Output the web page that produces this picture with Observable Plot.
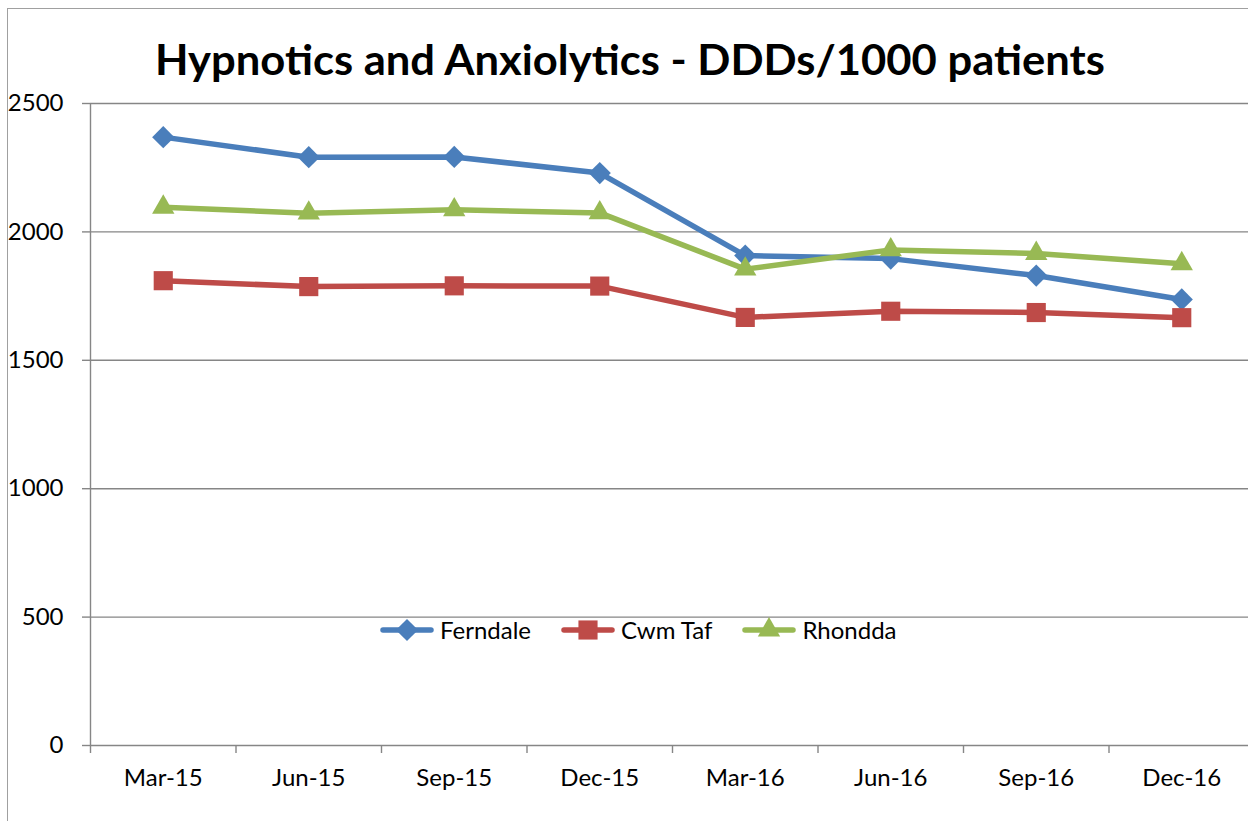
<!DOCTYPE html>
<html><head><meta charset="utf-8">
<script src="https://cdn.jsdelivr.net/npm/d3@7"></script>
<script src="https://cdn.jsdelivr.net/npm/@observablehq/plot@0.6"></script>
<style>
html,body{margin:0;padding:0;background:#fff;overflow:hidden;width:1248px;height:821px}
#wrap{position:relative;width:1248px;height:821px;overflow:hidden;background:#fff}
#frame{position:absolute;left:7px;top:8px;width:1400px;height:1000px;border:1px solid #a0a0a0;box-sizing:border-box}
#chart{position:absolute;left:0;top:0;width:1262px;height:821px}
#chart svg{max-width:none !important;width:1262px;height:821px}
#title{position:absolute;left:0;top:38px;width:1260px;text-align:center;font-family:Lato,"Open Sans",sans-serif;font-weight:700;font-size:42px;line-height:1;color:#000;white-space:nowrap}
#title span{display:inline-block;transform-origin:center}
#legend{position:absolute;left:380px;top:615px;display:flex;align-items:center;font-family:Lato,"Open Sans",sans-serif;font-size:24px;color:#000;line-height:30px}
#legend .item{display:flex;align-items:center;margin-right:30px}
#legend svg{display:block;margin-right:6px}
</style></head>
<body><div id="wrap"><div id="frame"></div><div id="chart"></div><div id="title"><span>Hypnotics and Anxiolytics - DDDs/1000 patients</span></div><div id="legend"></div></div>
<script>
const categories = ["Mar-15","Jun-15","Sep-15","Dec-15","Mar-16","Jun-16","Sep-16","Dec-16"];
const seriesNames = ["Ferndale","Cwm Taf","Rhondda"];
const ferndale = [2369, 2291, 2292, 2229, 1908, 1896, 1830, 1737];
const cwmTaf   = [1810, 1787, 1790, 1789, 1667, 1691, 1686, 1666];
const rhondda  = [2096, 2073, 2086, 2074, 1855, 1930, 1916, 1876];
const yTicks = [0, 500, 1000, 1500, 2000, 2500];

const seriesValues = [ferndale, cwmTaf, rhondda];
const styles = [
  {color: "#4A7EBB", symbol: "diamond2", r: 10.0},
  {color: "#BE4B48", symbol: "square", r: 10.8},
  {color: "#98B954", symbol: "triangle", r: 8.3}
];
const rows = seriesNames.map((s, k) => seriesValues[k].map((v, i) => ({series: s, i, value: v})));
const idx = categories.map((_, i) => i);
const bounds = [-0.5].concat(idx.map(i => i + 0.5));

const seriesMarks = [];
rows.forEach((r, k) => {
  seriesMarks.push(Plot.line(r, {x: d => d.i, y: d => d.value, stroke: styles[k].color, strokeWidth: 5.5, strokeLinejoin: "round", strokeLinecap: "round"}));
  seriesMarks.push(Plot.dot(r, {x: d => d.i, y: d => d.value, symbol: styles[k].symbol, r: styles[k].r, fill: styles[k].color, stroke: "none"}));
});

const chart = Plot.plot({
  width: 1262, height: 821,
  marginLeft: 90, marginRight: 8, marginTop: 103, marginBottom: 76,
  style: {fontFamily: "Lato, 'Open Sans', sans-serif", fontSize: "24px", color: "#000", background: "transparent", overflow: "visible", maxWidth: "none"},
  x: {type: "linear", domain: [-0.5, categories.length - 0.5], axis: null},
  y: {domain: [0, 2500], axis: null},
  marks: [
    Plot.ruleY(yTicks, {y: d => d, stroke: "#868686", strokeWidth: 1.4}),
    Plot.ruleX([-0.5], {x: d => d, stroke: "#868686", strokeWidth: 1.4}),
    Plot.axisY({ticks: yTicks, tickSize: 8, tickPadding: 19, stroke: "#868686", strokeWidth: 1.4, tickFormat: d => String(d), label: null, fontSize: 24}),
    Plot.axisX({ticks: bounds, tickSize: 8, stroke: "#868686", strokeWidth: 1.4, tickFormat: () => "", label: null}),
    Plot.axisX({ticks: idx, tickSize: 0, tickPadding: 23, tickFormat: i => categories[i], label: null, fontSize: 24}),
    ...seriesMarks
  ]
});
document.getElementById("chart").appendChild(chart);

// title width fit
const span = document.querySelector("#title span");
const w = span.getBoundingClientRect().width;
span.style.transform = `scaleX(${950 / w})`;

// legend
const legend = d3.select("#legend");
seriesNames.forEach((s, k) => {
  const item = legend.append("div").attr("class", "item");
  const svg = item.append("svg").attr("width", 54).attr("height", 30);
  svg.append("line").attr("x1", 3).attr("x2", 51).attr("y1", 15).attr("y2", 15)
    .attr("stroke", styles[k].color).attr("stroke-width", 5.5).attr("stroke-linecap", "round");
  const sym = {diamond2: d3.symbolDiamond2, square: d3.symbolSquare, triangle: d3.symbolTriangle}[styles[k].symbol];
  svg.append("path").attr("transform", "translate(27,15)")
    .attr("d", d3.symbol(sym, Math.PI * styles[k].r * styles[k].r)())
    .attr("fill", styles[k].color);
  item.append("span").text(s);
});
</script>
</body></html>
